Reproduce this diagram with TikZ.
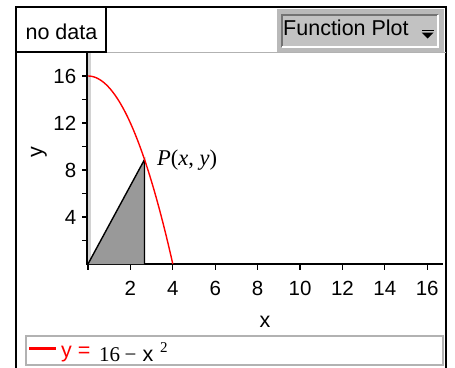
\documentclass[tikz,border=0pt]{standalone}
\usepackage{fontspec}
\setmainfont{Liberation Sans}
\newfontfamily\seriffont{Liberation Serif}
\begin{document}
\begin{tikzpicture}[x=1bp,y=-1bp,
  big/.style={font=\fontsize{21.5bp}{23bp}\selectfont, inner sep=0pt},
  ticklbl/.style={font=\fontsize{20.5bp}{22bp}\selectfont, inner sep=0pt},
  serifl/.style={font=\fontsize{21bp}{23bp}\seriffont, inner sep=0pt},
  axisline/.style={line width=1.6bp, black},
  tickline/.style={line width=1.2bp, black},
  curve/.style={red, line width=1.4bp},
  frameline/.style={line width=2bp, black},
  graybtn/.style={fill={rgb,255:red,185;green,185;blue,185}},
  grayin/.style={fill={rgb,255:red,194;green,194;blue,194}}]
\useasboundingbox (0,0) rectangle (455,367);
\clip (0,0) rectangle (455,367);
\fill[white] (0,0) rectangle (455,367);

% outer frame
\draw[frameline] (16,7) rectangle (446,380);
% top separator line
\draw[gray!60, line width=1bp] (106,52) -- (446,52);
% no data box
\draw[frameline] (16,7) rectangle (106,52);
\node[big, anchor=base] (nodata) at (61.5,39) {no data};

% Function Plot button
\path[graybtn] (277,9) rectangle (444,52);
\path[grayin] (282,15) rectangle (438,47);
\draw[gray!90!black, line width=1.2bp] (282,47) -- (282,15) -- (438,15);
\draw[white, line width=1.2bp] (438,15) -- (438,47) -- (282,47);
\node[big, anchor=base west] (fplot) at (283,35) {Function Plot};
\fill (421.5,29.5) rectangle (433.5,31);
\fill (421.5,32.5) -- (433.5,32.5) -- (427.5,38.5) -- cycle;

% y axis with gray strip
\fill[gray!35] (88,53) rectangle (91,264);
\draw[axisline] (87,53) -- (87,264);
% x axis
\draw[axisline] (86,264) -- (443,264);

% y ticks
\foreach \v in {2,4,...,16} {
  \draw[tickline] (82,{264-11.75*\v}) -- (87,{264-11.75*\v});
}
\foreach \v in {4,8,12,16} {
  \node[ticklbl, anchor=east] (ylab\v) at (76.5,{264-11.75*\v}) {\v};
}
% x ticks
\foreach \v in {0,2,...,16} {
  \draw[tickline] ({88+21.2*\v},264) -- ({88+21.2*\v},270);
}
\foreach \v in {2,4,...,16} {
  \node[ticklbl, anchor=base] (xlab\v) at ({88+21.2*\v},295.5) {\v};
}

% axis titles
\node[big, anchor=base] (xtitle) at (265,327) {x};
\node[big, rotate=90] (ytitle) at (39,152) {y};

% triangle
\coordinate (O) at (88,264);
\coordinate (Q) at ({88+21.2*8/3},264);
\coordinate (P) at ({88+21.2*8/3},{264-11.75*(16-64/9)});
\draw[line width=1.4bp, fill={rgb,255:red,153;green,153;blue,153}] (O) -- (P) -- (Q);
\draw[line width=1.4bp] (P) -- (Q);

% curve
\draw[curve] plot[domain=0:4, samples=80] ({88+21.2*\x},{264-11.75*(16-\x*\x)});

% P label
\node[font=\fontsize{22.5bp}{24bp}\seriffont, inner sep=0pt, anchor=base west] (plabel) at (157,165)
  {\textit{P}(\textit{x}, \textit{y})};

% legend
\draw[gray!60, line width=2bp] (26,336) rectangle (443,365);
\draw[red, line width=3bp] (29,348.5) -- (56,348.5);
\node[big, red, anchor=base west] (leq) at (61,357) {y =};
\node[serifl, anchor=base west] (l16) at (99,361.5) {16};
\node[serifl, anchor=base west] (lminus) at (124.5,361.5) {\char"2212};
\node[big, anchor=base west] (lx) at (142.5,361.5) {x};
\node[font=\fontsize{15bp}{17bp}\seriffont, inner sep=0pt, anchor=base west] (l2) at (160,352) {2};
\end{tikzpicture}
\end{document}
